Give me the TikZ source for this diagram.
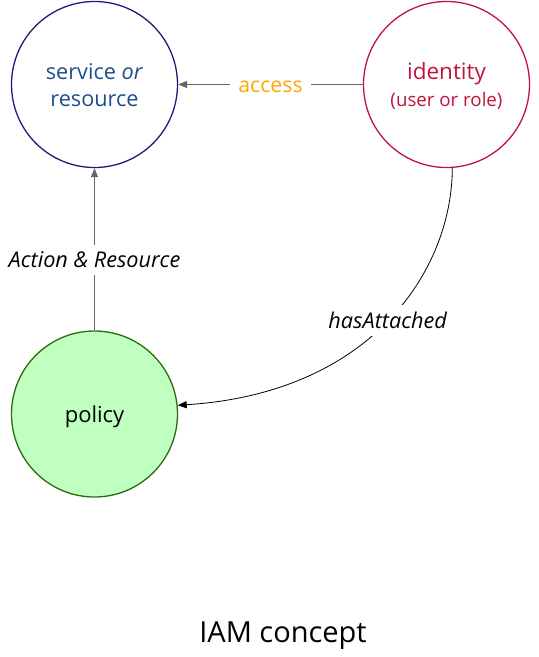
\documentclass[tikz,border=0pt]{standalone}
\usepackage{fontspec}
\setmainfont{Open Sans}
\usetikzlibrary{arrows.meta}
\definecolor{svcline}{HTML}{33107A}
\definecolor{svctext}{HTML}{1F4E8C}
\definecolor{idline}{HTML}{C0143C}
\definecolor{polfill}{HTML}{BFFFBF}
\definecolor{polline}{HTML}{2E6B0F}
\definecolor{accesscol}{HTML}{FFA500}
\definecolor{conngray}{HTML}{666666}
\newcommand{\lowtext}[1]{\raisebox{-3pt}[\height][\depth]{\begin{tabular}{@{}c@{}}#1\end{tabular}}}
\tikzset{
  circ/.style={circle, minimum size=166pt, inner sep=0pt, line width=1.3pt, align=center, font=\fontsize{21.7}{27}\selectfont},
  conn/.style={draw=conngray, line width=1pt, -{Triangle[length=9pt,width=7pt]}},
  curveconn/.style={draw=black, line width=0.8pt, -{Triangle[length=9pt,width=7pt]}},
  lbl/.style={fill=white, inner sep=7pt, font=\fontsize{21.7}{26}\selectfont\itshape}
}
\begin{document}
\begin{tikzpicture}[x=1pt,y=-1pt]
\useasboundingbox (0,0) rectangle (539,657);
\node[circ, draw=svcline, text=svctext] (svc) at (94.5,84.5) {\lowtext{service \textit{or}\\resource}};
\node[circ, draw=idline, text=idline] (id) at (446.5,84.5) {\lowtext{{\fontsize{22.5}{27}\selectfont identity}\\{\fontsize{18.7}{24}\selectfont (user or role)}}};
\node[circ, draw=polline, fill=polfill, text=black, font=\fontsize{22}{27}\selectfont] (pol) at (94.5,414) {\lowtext{policy}};
\draw[conn] (id) -- node[fill=white, inner sep=8pt, text=accesscol, font=\fontsize{21.3}{26}\selectfont, yshift=-2pt] {access} (svc);
\draw[conn] (pol) -- node[lbl, pos=0.436] {Action \& Resource} (svc);
\draw[curveconn] (id.-86) .. controls (452,270) and (372,393) .. node[lbl, pos=0.5] {hasAttached} (pol.6);
\node[font=\fontsize{29}{34}\selectfont] (title) at (283,636) {IAM concept};
\end{tikzpicture}
\end{document}
